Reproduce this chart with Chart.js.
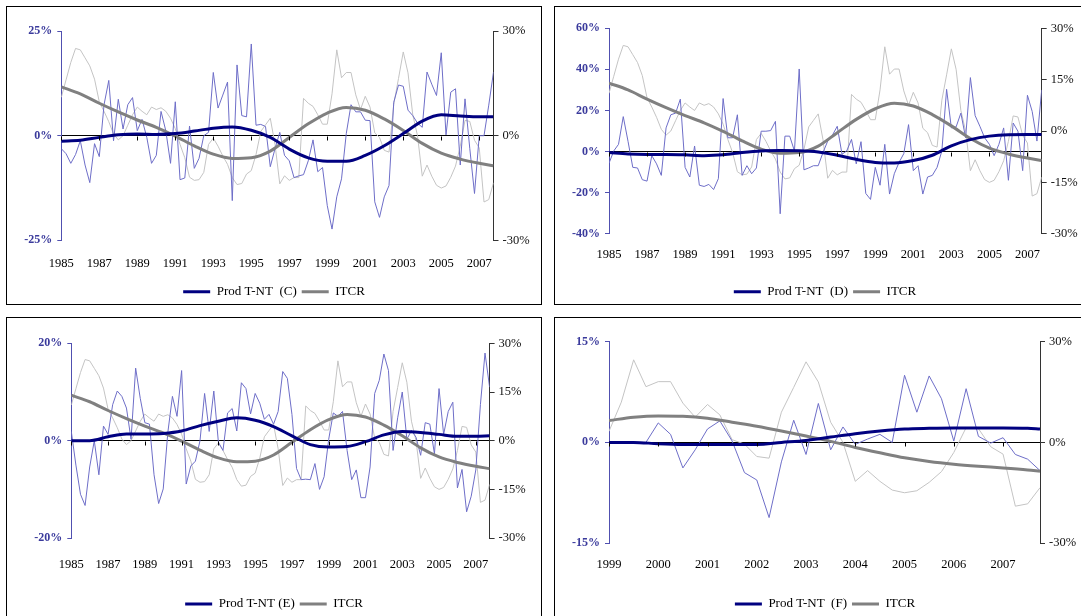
<!DOCTYPE html>
<html lang="es">
<head>
<meta charset="UTF-8">
<title>Prod T-NT e ITCR</title>
<script src="https://cdn.jsdelivr.net/npm/chart.js@4.4.1/dist/chart.umd.min.js"></script>
<style>
  html, body { margin: 0; padding: 0; background: #fff; overflow: hidden; }
  body { width: 1081px; height: 616px; position: relative; }
  .panel { position: absolute; border: 1px solid #000; box-sizing: border-box; }
  canvas { position: absolute; }
</style>
</head>
<body>
<!-- marcos de los cuatro paneles -->
<div class="panel" style="left:6px;top:6px;width:536px;height:299px"></div>
<div class="panel" style="left:554px;top:6px;width:542px;height:299px"></div>
<div class="panel" style="left:6px;top:317px;width:536px;height:312px"></div>
<div class="panel" style="left:554px;top:317px;width:542px;height:312px"></div>

<canvas id="chartC" width="534" height="302" style="left:7px;top:7px"></canvas>
<canvas id="chartD" width="540" height="302" style="left:555px;top:7px"></canvas>
<canvas id="chartE" width="534" height="308" style="left:7px;top:318px"></canvas>
<canvas id="chartF" width="540" height="308" style="left:555px;top:318px"></canvas>

<script>
// datos trimestrales 1985T1 - 2007T4 (92 obs.), en %
const prodC = [-3.1,-4.3,-6.6,-4.5,-1.2,-7,-11.2,-1.9,-5,7.4,13.2,-1.2,8.7,1.6,7.4,9.1,1.2,3.9,-0.4,-6.6,
  -4.7,5.8,1.2,-6.6,8.1,-10.5,-10.1,2.3,-7.8,-5.4,0,0.8,15.1,6.6,9.7,12.8,-15.5,16.9,4.8,4.5,
  21.9,2.5,2.7,2.2,-7.4,-3.1,0.8,-4.7,-6,-10,-9.6,-9.3,-6,-1,-8.6,-7.6,-16.7,-22.3,-14.6,-10.3,
  0.5,7.4,5.7,5.7,3.7,3.6,-15.8,-19.5,-14.6,-11.9,8,12.1,11.8,6.1,4.8,3,2,15.2,12.3,9.6,
  19.8,0.2,10.4,11.2,-7,8.8,-3,-13.8,0,0,7.3,15.2];
const prodD = [-5.7,0.3,3.5,17,5,-7.7,-8,-13.7,-14.4,-2,-6,-11.6,11.5,17.9,18.7,25.5,-7.7,-12.4,2.7,-16.4,
  -17,-16,-18.5,-13.2,25.8,6.7,6.7,17.9,-11.6,-6.9,-10.8,-8,9.9,9.9,10.2,14.7,-30.3,7.5,7.5,0.3,
  40.2,-8.9,-8,-6.9,-6.9,-0.5,5.1,8,12.3,-1.3,0.3,5.9,-6,4.8,-20.4,-23.3,-7.7,-16.4,3.5,-20.7,
  -10.8,-5.3,-1,13.1,-9.3,-6.9,-20.7,-12.4,-11.6,-7.7,0.3,30.3,11.5,12,18.7,6.7,36,17.5,12.3,6.7,
  3.5,-2,3.5,11.5,-14,13.9,9.9,-9.3,27.4,19.5,5.1,30];
const prodE = [1.9,-5,-11,-13.3,-5.4,0,-7,3,1.3,7.4,10.2,9.1,6.7,0.3,14.9,8.7,3.7,3.4,-7,-12.9,
  -9.9,1.7,9.1,5,14.4,-8.9,-5.2,-4.2,0,9.7,1.9,10.2,-0.3,-2,5.7,6.6,2,11.9,10.7,5.5,
  9.7,7.7,4.4,5.4,3.4,6,14.2,12.8,5.4,-5.7,-8,-7.9,-8,-4.7,-10,-7.4,0.3,5.7,5,6,
  -2,-8,-6,-11.7,-11.7,-5.4,9.7,12.4,17.8,14.4,-2,4.7,10,0.3,2.1,0.7,-3,3.7,3.4,-2.7,
  10.7,1.3,6,7.9,-9.7,-5.9,-14.6,-11.4,-6,7.4,18,11];
const itcr = [11,16,21,25,24.6,22.3,20,16.2,9.7,7,4,0.5,-1.2,0,3,6,8.2,7,6,8.2,
  7.5,8,7,5,2,-2.5,-6.3,-11.9,-12.8,-12.6,-10.5,-2.5,-0.7,-3,-5.8,-8.2,-12,-14,-13.7,-11,
  -10,-5.4,1.2,3.1,5,-2.5,-13.8,-11.5,-12.8,-12,-12,10.7,9.3,8.4,6,3.3,3.3,12,24.6,16.6,
  18.1,18.1,11.7,7.5,11.3,8.2,0.8,-0.5,-4.2,-4.7,9,16.4,24,18,6,0,-11.6,-8.4,-11.6,-14.2,
  -15,-14.4,-11.9,-8.7,-3,4.4,4.1,-1.3,-3.5,-19,-18.3,-13.5];

// tendencias, leídas cada cuatro trimestres
const trendIdx = [0,4,8,12,16,20,24,28,32,36,40,44,48,52,56,60,64,68,72,76,80,84,88,91];
const trendC = [-1.3,-1.1,-0.4,0.2,0.4,0.3,0.5,1.1,1.8,2.1,1.3,-0.4,-3.2,-5.3,-6.1,-6.1,-4.7,-2.4,0.5,3.5,5,4.7,4.5,4.5];
const trendD = [-0.5,-1.2,-1.4,-1.4,-1.6,-2,-1.6,-0.5,0.3,0.5,0.4,-0.2,-1.8,-3.8,-5.3,-5.6,-4.4,-1.8,2.8,5.8,7.5,8.2,8.3,8.3];
const trendE = [0,0,0.8,1.4,1.4,1.5,2,3.1,4,4.7,4.2,2.9,1,-0.8,-1.3,-1.2,-0.2,1.2,1.9,1.7,1.3,0.9,0.9,1];
const trendItcr = [14,12,9.3,6.8,4.5,2.4,-0.1,-2.9,-5.3,-6.5,-6.3,-4.4,-0.5,3.4,6.5,8.1,7.3,4.8,1.5,-2.2,-5,-6.7,-7.9,-8.6];

// panel F: 1999T1 - 2007T4 (36 obs.)
const prodF = [0,0,0,0,2.9,1.2,-3.8,-1.1,2,3.2,0.2,-4.5,-5.6,-11.2,-2.9,3.3,-1.8,5.8,-1.1,2.3,
  -0.3,0.5,1.2,0,10,4.5,9.9,6.5,0.2,8,0.9,-0.1,0.7,-1.8,-2.5,-4.2];
const itcrF = itcr.slice(56);
const trendIdxF = [0,2,4,6,8,10,12,14,16,18,20,22,24,26,28,30,32,34,35];
const trendF = [0,0,-0.2,-0.3,-0.3,-0.3,-0.3,0,0.3,0.8,1.3,1.7,2,2.1,2.15,2.15,2.15,2.1,2];
const trendItcrF = [6.5,7.5,7.9,7.8,7.2,6,4.8,3.4,1.9,0.3,-1.5,-3.1,-4.6,-5.7,-6.5,-7.1,-7.6,-8.2,-8.6];

// ejes
const yearTicks = [0,8,16,24,32,40,48,56,64,72,80,88];
const yearTicksF = [0,4,8,12,16,20,24,28,32];

const FONT = 'Liberation Serif';
const NAVY = '#000080';
const GREY = '#808080';
const THIN_BLUE = '#6e6ec8';
const THIN_GREY = '#c4c4c4';
const LABEL_BLUE = '#3a3a9c';
const AXIS_BLUE = '#5050b0';

function pts(values, idx) {
  return values.map((v, i) => ({ x: idx ? idx[i] : i, y: v }));
}

// marcas pequeñas del eje de categorías sobre la línea del cero
const zeroTicks = {
  id: 'zeroTicks',
  afterDraw(chart) {
    const x = chart.scales.x, y = chart.scales.y, c = chart.ctx;
    const y0 = Math.round(y.getPixelForValue(0)) + 0.5;
    c.save();
    c.strokeStyle = '#000';
    c.lineWidth = 1;
    c.beginPath();
    x.ticks.forEach(t => {
      const px = Math.round(x.getPixelForValue(t.value)) + 0.5;
      c.moveTo(px, y0);
      c.lineTo(px, y0 + 4);
    });
    c.stroke();
    c.restore();
  }
};

function panelChart(id, o) {
  const ctx = document.getElementById(id).getContext('2d');
  return new Chart(ctx, {
    type: 'line',
    data: {
      datasets: [
        { label: o.prodLabel, data: pts(o.trend, o.trendIdx), yAxisID: 'y', borderColor: NAVY, backgroundColor: NAVY,
          borderWidth: 3, pointRadius: 0, pointStyle: 'line', cubicInterpolationMode: 'monotone', order: 0, key: true },
        { label: 'ITCR', data: pts(o.trendItcr, o.trendIdx), yAxisID: 'y1', borderColor: GREY, backgroundColor: GREY,
          borderWidth: 3, pointRadius: 0, pointStyle: 'line', cubicInterpolationMode: 'monotone', order: 1, key: true },
        { label: 'prod', data: pts(o.prod), yAxisID: 'y', borderColor: THIN_BLUE, borderWidth: 1,
          pointRadius: 0, tension: 0, order: 2 },
        { label: 'itcr', data: pts(o.itcr), yAxisID: 'y1', borderColor: THIN_GREY, borderWidth: 1,
          pointRadius: 0, tension: 0, order: 3 }
      ]
    },
    plugins: [zeroTicks],
    options: {
      responsive: false,
      animation: false,
      devicePixelRatio: 1,
      layout: { padding: { top: o.top, bottom: o.padB, left: 0, right: 0 } },
      plugins: {
        tooltip: { enabled: false },
        legend: {
          position: 'bottom',
          labels: {
            usePointStyle: true,
            pointStyleWidth: 27,
            padding: 5,
            color: '#000',
            font: { family: FONT, size: 13 },
            filter: (item, data) => data.datasets[item.datasetIndex].key
          }
        }
      },
      scales: {
        x: {
          type: 'linear', min: 0, max: o.xMax,
          grid: { display: false, drawTicks: false },
          border: { display: false },
          afterBuildTicks: s => { s.ticks = o.xTicks.map(v => ({ value: v })); },
          afterFit: s => { s.height = o.xH; },
          ticks: {
            padding: o.xPad, maxRotation: 0, autoSkip: false, color: '#000',
            font: { family: FONT, size: 12.5 },
            callback: v => String(o.year0 + v / 4)
          }
        },
        y: {
          position: 'left', min: o.yMin, max: o.yMax,
          afterBuildTicks: s => { s.ticks = o.yTicks.map(v => ({ value: v })); },
          afterFit: s => { s.width = o.yW; },
          grid: {
            color: c => (c.tick && c.tick.value === 0) ? '#000' : 'rgba(0,0,0,0)',
            tickColor: AXIS_BLUE, tickLength: 4
          },
          border: { color: AXIS_BLUE },
          ticks: {
            padding: 5, color: LABEL_BLUE,
            font: { family: FONT, size: 12, weight: 'bold' },
            callback: v => v + '%'
          }
        },
        y1: {
          position: 'right', min: -30, max: 30,
          afterBuildTicks: s => { s.ticks = o.y1Ticks.map(v => ({ value: v })); },
          afterFit: s => { s.width = o.y1W; },
          grid: { drawOnChartArea: false, tickColor: '#333', tickLength: 5 },
          border: { color: '#333' },
          ticks: {
            padding: 4, color: '#111',
            font: { family: FONT, size: 12.5 },
            callback: v => v + '%'
          }
        }
      }
    }
  });
}

panelChart('chartC', {
  prodLabel: 'Prod T-NT  (C)', prod: prodC, itcr: itcr, trend: trendC, trendItcr: trendItcr, trendIdx: trendIdx,
  xMax: 91, xTicks: yearTicks, year0: 1985,
  yMin: -25, yMax: 25, yTicks: [-25, 0, 25], y1Ticks: [-30, 0, 30],
  top: 24, padB: 0.8, xH: 39.8, xPad: 16, yW: 54.3, y1W: 47.5
});

panelChart('chartD', {
  prodLabel: 'Prod T-NT  (D)', prod: prodD, itcr: itcr, trend: trendD, trendItcr: trendItcr, trendIdx: trendIdx,
  xMax: 91, xTicks: yearTicks, year0: 1985,
  yMin: -40, yMax: 60, yTicks: [-40, -20, 0, 20, 40, 60], y1Ticks: [-30, -15, 0, 15, 30],
  top: 21.3, padB: 0.8, xH: 46.5, xPad: 13.7, yW: 54, y1W: 53.3
});

panelChart('chartE', {
  prodLabel: 'Prod T-NT (E)', prod: prodE, itcr: itcr, trend: trendE, trendItcr: trendItcr, trendIdx: trendIdx,
  xMax: 91, xTicks: yearTicks, year0: 1985,
  yMin: -20, yMax: 20, yTicks: [-20, 0, 20], y1Ticks: [-30, -15, 0, 15, 30],
  top: 25.3, padB: 5.5, xH: 54.4, xPad: 19, yW: 64.3, y1W: 51.4
});

panelChart('chartF', {
  prodLabel: 'Prod T-NT  (F)', prod: prodF, itcr: itcrF, trend: trendF, trendItcr: trendItcrF, trendIdx: trendIdxF,
  xMax: 35, xTicks: yearTicksF, year0: 1999,
  yMin: -15, yMax: 15, yTicks: [-15, 0, 15], y1Ticks: [-30, 0, 30],
  top: 23.7, padB: 5.5, xH: 49.4, xPad: 14.3, yW: 54, y1W: 55
});
</script>
</body>
</html>
